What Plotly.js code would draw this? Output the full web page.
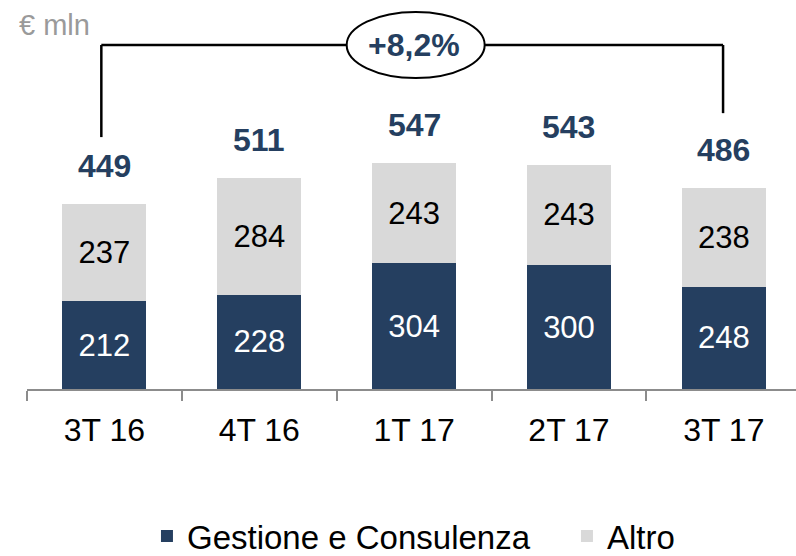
<!DOCTYPE html>
<html>
<head>
<meta charset="utf-8">
<script src="https://cdn.plot.ly/plotly-3.0.1.min.js"></script>
<style>html,body{margin:0;padding:0;background:#fff;}#chart{width:796px;height:556px;}</style>
</head>
<body>
<div id="chart"></div>
<script>
// ---- data ----
var categories = ["3T 16", "4T 16", "1T 17", "2T 17", "3T 17"];
var gestione = [212, 228, 304, 300, 248];
var altro = [237, 284, 243, 243, 238];
var totals = [449, 511, 547, 543, 486];
var growthLabel = "+8,2%";
var unitLabel = "€ mln";
var seriesNames = ["Gestione e Consulenza", "Altro"];

// ---- styles ----
var DARK = "#253F60";
var LIGHT = "#D9D9D9";
var FONT = "Liberation Sans, Arial, sans-serif";

var traces = [
  {
    type: "bar", name: seriesNames[0], x: categories, y: gestione,
    marker: {color: DARK}, legendwidth: 375,
    texttemplate: "%{y}", textposition: "inside", insidetextanchor: "middle",
    textfont: {family: FONT, size: 31, color: "#ffffff"},
    constraintext: "none", hoverinfo: "skip"
  },
  {
    type: "bar", name: seriesNames[1], x: categories, y: altro,
    marker: {color: LIGHT}, legendwidth: 90,
    texttemplate: "%{y}", textposition: "inside", insidetextanchor: "middle",
    textfont: {family: FONT, size: 31, color: "#000000"},
    constraintext: "none", hoverinfo: "skip"
  }
];

var annotations = totals.map(function (t, i) {
  return {
    x: categories[i], y: t, xref: "x", yref: "y",
    text: "<b>" + t + "</b>", showarrow: false,
    yanchor: "middle", yshift: 38,
    font: {family: FONT, size: 32, color: DARK}
  };
});

var last = totals.length - 1;
var bracketY = 833;
var leftLegY = totals[0] + 161;
var rightLegY = totals[last] + 182;

annotations.push({
  x: 2, y: bracketY, xref: "x", yref: "y", text: "<b>" + growthLabel + "</b>",
  showarrow: false, xanchor: "center", yanchor: "middle",
  font: {family: FONT, size: 32, color: DARK}
});
var plotL = 27, plotW = 796 - 27, plotT = 0, plotH = 389;
annotations.push({
  x: (17 - plotL) / plotW, y: 1 - (25 - plotT) / plotH, xref: "paper", yref: "paper",
  xanchor: "left", yanchor: "middle",
  text: unitLabel, showarrow: false,
  font: {family: FONT, size: 29, color: "#9a9a9a"}
});

var lineStyle = {color: "#000000", width: 2.5};
var shapes = [
  {type: "line", xref: "x", yref: "y", x0: -0.02, x1: -0.02, y0: leftLegY, y1: bracketY, line: lineStyle},
  {type: "line", xref: "x", yref: "y", x0: -0.02, x1: last - 0.005, y0: bracketY, y1: bracketY, line: lineStyle},
  {type: "line", xref: "x", yref: "y", x0: last - 0.005, x1: last - 0.005, y0: rightLegY, y1: bracketY, line: lineStyle},
  {type: "circle", xref: "x", yref: "y", xsizemode: "pixel", ysizemode: "pixel",
   xanchor: 2.01, yanchor: bracketY, x0: -69, x1: 69, y0: -33, y1: 33,
   fillcolor: "#ffffff", line: {color: "#000000", width: 2}, layer: "above"}
];

var layout = {
  width: 796, height: 556,
  margin: {l: 27, r: 0, t: 0, b: 167, pad: 0, autoexpand: false},
  paper_bgcolor: "#ffffff", plot_bgcolor: "#ffffff",
  barmode: "stack", bargap: 0.457,
  showlegend: true,
  legend: {
    orientation: "h", x: 0.156, xanchor: "left", y: -0.306, yanchor: "top",
    font: {family: FONT, size: 33, color: "#000000"},
    traceorder: "normal", bgcolor: "rgba(0,0,0,0)"
  },
  xaxis: {
    type: "category", range: [-0.5, 4.466], fixedrange: true, automargin: false,
    showline: true, linecolor: "#8c8c8c", linewidth: 2,
    ticks: "outside", tickson: "boundaries", ticklen: 10, tickwidth: 2, tickcolor: "#8c8c8c",
    ticklabelstandoff: 12,
    tickfont: {family: FONT, size: 32, color: "#000000"},
    showgrid: false, zeroline: false
  },
  yaxis: {
    range: [0, 942], visible: false, showgrid: false, zeroline: false, fixedrange: true
  },
  annotations: annotations,
  shapes: shapes,
  font: {family: FONT}
};

Plotly.newPlot("chart", traces, layout, {displayModeBar: false, staticPlot: true});
</script>
</body>
</html>
